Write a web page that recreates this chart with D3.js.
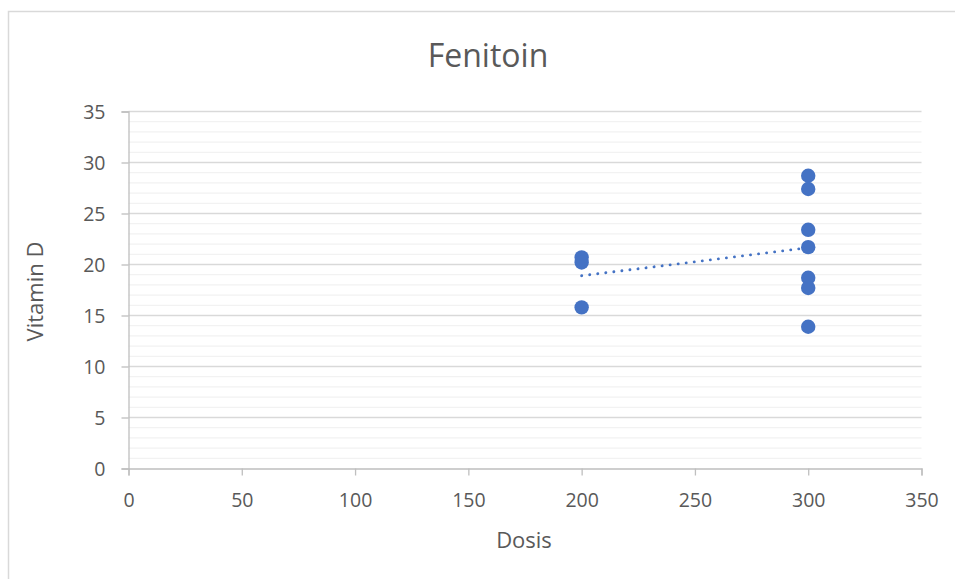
<!DOCTYPE html>
<html><head><meta charset="utf-8">
<script src="https://cdn.jsdelivr.net/npm/d3@7"></script>
<style>body{margin:0;background:#fff}svg{display:block}text{font-family:"Open Sans",sans-serif;fill:#595959}</style>
</head><body><svg id="c" width="955" height="579"></svg>
<script>
const title = "Fenitoin";
const xLabel = "Dosis";
const yLabel = "Vitamin D";
const dosis = [200, 200, 200, 300, 300, 300, 300, 300, 300, 300];
const vitaminD = [20.7, 20.2, 15.8, 28.7, 27.4, 23.4, 21.7, 18.7, 17.7, 13.9];
const xTicks = [0, 50, 100, 150, 200, 250, 300, 350];
const yTicks = [0, 5, 10, 15, 20, 25, 30, 35];
const yMinor = d3.range(0, 36, 1);

const svg = d3.select("#c");
const x = d3.scaleLinear().domain([0, 350]).range([128.5, 921.5]);
const y = d3.scaleLinear().domain([0, 35]).range([468.5, 111.5]);

// chart border
svg.append("rect").attr("x", 8.5).attr("y", 11.5).attr("width", 960).attr("height", 600)
  .attr("fill", "none").attr("stroke", "#d9d9d9").attr("stroke-width", 1.5);

// minor gridlines
svg.append("g").selectAll("line").data(yMinor.filter(v => v % 5 !== 0)).join("line")
  .attr("x1", x(0)).attr("x2", x(350)).attr("y1", d => y(d)).attr("y2", d => y(d))
  .attr("stroke", "#f2f2f2").attr("stroke-width", 1.3);
// major gridlines
svg.append("g").selectAll("line").data(yTicks.filter(v => v > 0)).join("line")
  .attr("x1", x(0)).attr("x2", x(350)).attr("y1", d => y(d)).attr("y2", d => y(d))
  .attr("stroke", "#d9d9d9").attr("stroke-width", 1.3);

// axes
const yAxis = d3.axisLeft(y).tickValues(yTicks).tickSize(7).tickPadding(16);
const xAxis = d3.axisBottom(x).tickValues(xTicks).tickSize(7).tickPadding(18);
const gy = svg.append("g").attr("transform", `translate(${x(0)},0)`).call(yAxis);
const gx = svg.append("g").attr("transform", `translate(0,${y(0)})`).call(xAxis);
[gx, gy].forEach(g => {
  g.select(".domain").attr("stroke", "#bfbfbf").attr("stroke-width", 1.3);
  g.selectAll(".tick line").attr("stroke", "#bfbfbf").attr("stroke-width", 1.3);
  g.selectAll(".tick text").attr("font-family", "Open Sans, sans-serif").attr("font-size", 19.5).attr("fill", "#595959");
});
gy.selectAll(".tick text").attr("dy", "0.36em");

// trendline (least squares)
const mx = d3.mean(dosis), my = d3.mean(vitaminD);
const slope = d3.sum(dosis.map((d, i) => (d - mx) * (vitaminD[i] - my))) / d3.sum(dosis.map(d => (d - mx) ** 2));
const icpt = my - slope * mx;
const x0 = d3.min(dosis), x1 = d3.max(dosis);
svg.append("line")
  .attr("x1", x(x0)).attr("y1", y(icpt + slope * x0))
  .attr("x2", x(x1)).attr("y2", y(icpt + slope * x1))
  .attr("stroke", "#4472c4").attr("stroke-width", 2.8)
  .attr("stroke-linecap", "round").attr("stroke-dasharray", "0.1 8");

// points
svg.append("g").selectAll("circle").data(dosis).join("circle")
  .attr("cx", d => x(d)).attr("cy", (d, i) => y(vitaminD[i])).attr("r", 7.2)
  .attr("fill", "#4472c4");

// titles
svg.append("text").attr("x", 488).attr("y", 67).attr("text-anchor", "middle")
  .attr("font-size", 32).text(title);
svg.append("text").attr("x", 524).attr("y", 548).attr("text-anchor", "middle")
  .attr("font-size", 22).text(xLabel);
svg.append("text").attr("transform", "translate(43,291.5) rotate(-90)").attr("text-anchor", "middle")
  .attr("font-size", 22).text(yLabel);
</script></body></html>
